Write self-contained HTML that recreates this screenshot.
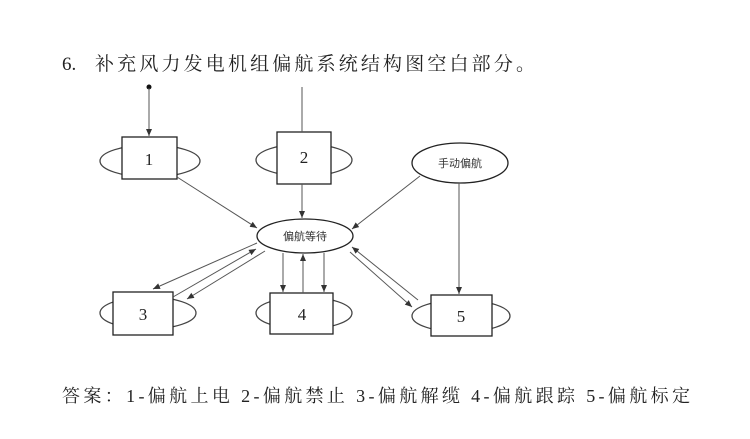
<!DOCTYPE html>
<html><head><meta charset="utf-8"><style>
html,body{margin:0;padding:0;background:#fff;}
svg{display:block;}
</style></head><body>
<svg width="750" height="439" xmlns="http://www.w3.org/2000/svg">
<defs>
<marker id="a" markerWidth="8" markerHeight="8" refX="7" refY="3" orient="auto" markerUnits="userSpaceOnUse">
<path d="M0,0 L7,3 L0,6 z" fill="#333"/></marker>
</defs>
<text x="62" y="70" font-family="Liberation Serif, Noto Serif CJK SC, serif" font-size="19" fill="#222">6.</text>
<text x="95" y="70" font-family="Liberation Serif, Noto Serif CJK SC, serif" font-size="19" fill="#222" textLength="440" lengthAdjust="spacing">补充风力发电机组偏航系统结构图空白部分。</text>

<g fill="none" stroke="#444" stroke-width="1.3">
<ellipse cx="150" cy="161" rx="50" ry="16"/>
<ellipse cx="304" cy="160" rx="48" ry="16"/>
<ellipse cx="148" cy="313" rx="48" ry="16"/>
<ellipse cx="304" cy="313" rx="48" ry="16"/>
<ellipse cx="461" cy="316" rx="49" ry="16"/>
</g>
<g fill="#fff" stroke="#222" stroke-width="1.3">
<rect x="122" y="137" width="55" height="42"/>
<rect x="277" y="132" width="54" height="52"/>
<rect x="113" y="292" width="60" height="43"/>
<rect x="270" y="293" width="63" height="41"/>
<rect x="431" y="295" width="61" height="41"/>
<ellipse cx="460" cy="163" rx="48" ry="20"/>
<ellipse cx="305" cy="236" rx="48" ry="17"/>
</g>
<g font-family="Liberation Serif, serif" font-size="17" fill="#222" text-anchor="middle">
<text x="149" y="165">1</text><text x="304" y="163">2</text><text x="143" y="320">3</text><text x="302" y="320">4</text><text x="461" y="322">5</text>
</g>
<g font-family="Liberation Sans, Noto Sans CJK SC, sans-serif" font-size="11" fill="#333" text-anchor="middle">
<text x="460" y="167">手动偏航</text><text x="305" y="240">偏航等待</text>
</g>
<circle cx="149" cy="87" r="2.5" fill="#111"/>
<g stroke="#555" stroke-width="1" marker-end="url(#a)">
<line x1="149" y1="88" x2="149" y2="136"/>
<line x1="177" y1="177" x2="257" y2="228"/>
<line x1="302" y1="184" x2="302" y2="218"/>
<line x1="420" y1="176" x2="352" y2="229"/>
<line x1="459" y1="183" x2="459" y2="294"/>
<line x1="257" y1="243" x2="153" y2="289"/>
<line x1="173" y1="297" x2="256" y2="249"/>
<line x1="265" y1="251" x2="187" y2="299"/>
<line x1="283" y1="253" x2="283" y2="292"/>
<line x1="303" y1="293" x2="303" y2="254"/>
<line x1="324" y1="253" x2="324" y2="292"/>
<line x1="350" y1="252" x2="412" y2="307"/>
<line x1="418" y1="300" x2="352" y2="247"/>
</g>
<line x1="302" y1="87" x2="302" y2="132" stroke="#555" stroke-width="1"/>
<text x="62" y="402" font-family="Liberation Serif, Noto Serif CJK SC, serif" font-size="18" fill="#222" textLength="628" lengthAdjust="spacing">答案：1-偏航上电 2-偏航禁止 3-偏航解缆 4-偏航跟踪 5-偏航标定</text>
</svg>
</body></html>
